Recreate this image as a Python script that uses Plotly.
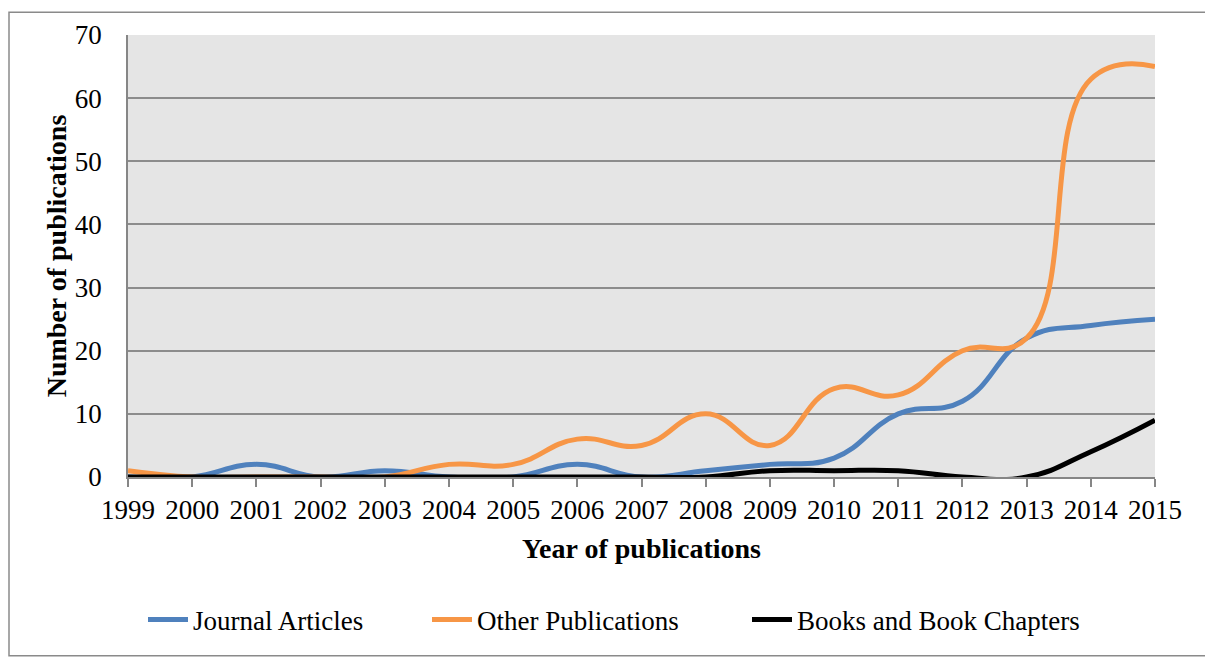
import plotly.graph_objects as go

years = list(range(1999, 2016))
journal_articles = [0, 0, 2, 0, 1, 0, 0, 2, 0, 1, 2, 3, 10, 12, 22, 24, 25]
other_publications = [1, 0, 0, 0, 0, 2, 2, 6, 5, 10, 5, 14, 13, 20, 22, 63, 65]
books_chapters = [0, 0, 0, 0, 0, 0, 0, 0, 0, 0, 1, 1, 1, 0, 0, 4, 9]
y_ticks = [0, 10, 20, 30, 40, 50, 60, 70]

FONT = "Liberation Serif"
OFF = 8  # page body margin

W, H = 1213 - OFF, 660 - OFF
L, T = 128 - OFF, 32 - OFF
R = W - (1155 - OFF)
B = H - (477 - OFF)
pw, ph = W - L - R, H - T - B

def py(page_y):
    return (ph - (page_y - OFF - T)) / ph

def px(page_x):
    return (page_x - OFF - L) / pw

fig = go.Figure()
series = [
    ("Journal Articles", journal_articles, "#4f81bd", "legend", 193),
    ("Other Publications", other_publications, "#f79646", "legend2", 477),
    ("Books and Book Chapters", books_chapters, "#000000", "legend3", 797),
]
legends = {}
for name, vals, col, lg, text_x in series:
    fig.add_trace(go.Scatter(
        x=years, y=vals, name=name, mode="lines", legend=lg,
        line=dict(color=col, width=5, shape="spline", smoothing=1.3),
    ))
    legends[lg] = dict(
        orientation="h", x=px(text_x - 50), xanchor="left",
        y=py(621), yanchor="middle",
        font=dict(family=FONT, size=27),
        itemwidth=40, bgcolor="rgba(0,0,0,0)",
    )

fig.update_layout(
    width=W, height=H,
    margin=dict(l=L, r=R, t=T, b=B),
    paper_bgcolor="white",
    plot_bgcolor="#e5e5e5",
    font=dict(family=FONT, size=27, color="black"),
    showlegend=True,
    **legends,
    xaxis=dict(
        range=[1999, 2015],
        tickmode="array", tickvals=years, ticktext=[str(y) for y in years],
        showgrid=False, zeroline=False,
        showline=True, linecolor="#868686", linewidth=1.5,
        ticks="outside", ticklen=8, tickcolor="#868686", tickwidth=1.5,
        title=dict(text="<b>Year of publications</b>", font=dict(family=FONT, size=28), standoff=14),
        tickfont=dict(family=FONT, size=27),
    ),
    yaxis=dict(
        range=[0, 70],
        tickmode="array", tickvals=y_ticks,
        showgrid=True, gridcolor="#8c8c8c", gridwidth=1.5,
        zeroline=False,
        showline=True, linecolor="#868686", linewidth=1.5,
        ticks="", ticklabelstandoff=19,
        title=dict(text="<b>Number of publications</b>", font=dict(family=FONT, size=28), standoff=0),
        tickfont=dict(family=FONT, size=27),
    ),
    shapes=[dict(
        type="rect", xref="paper", yref="paper",
        x0=px(9), x1=px(1210),
        y0=py(657), y1=py(9),
        line=dict(color="#8a8a8a", width=1.5), layer="below",
    )],
)

fig.write_html("out.html")
